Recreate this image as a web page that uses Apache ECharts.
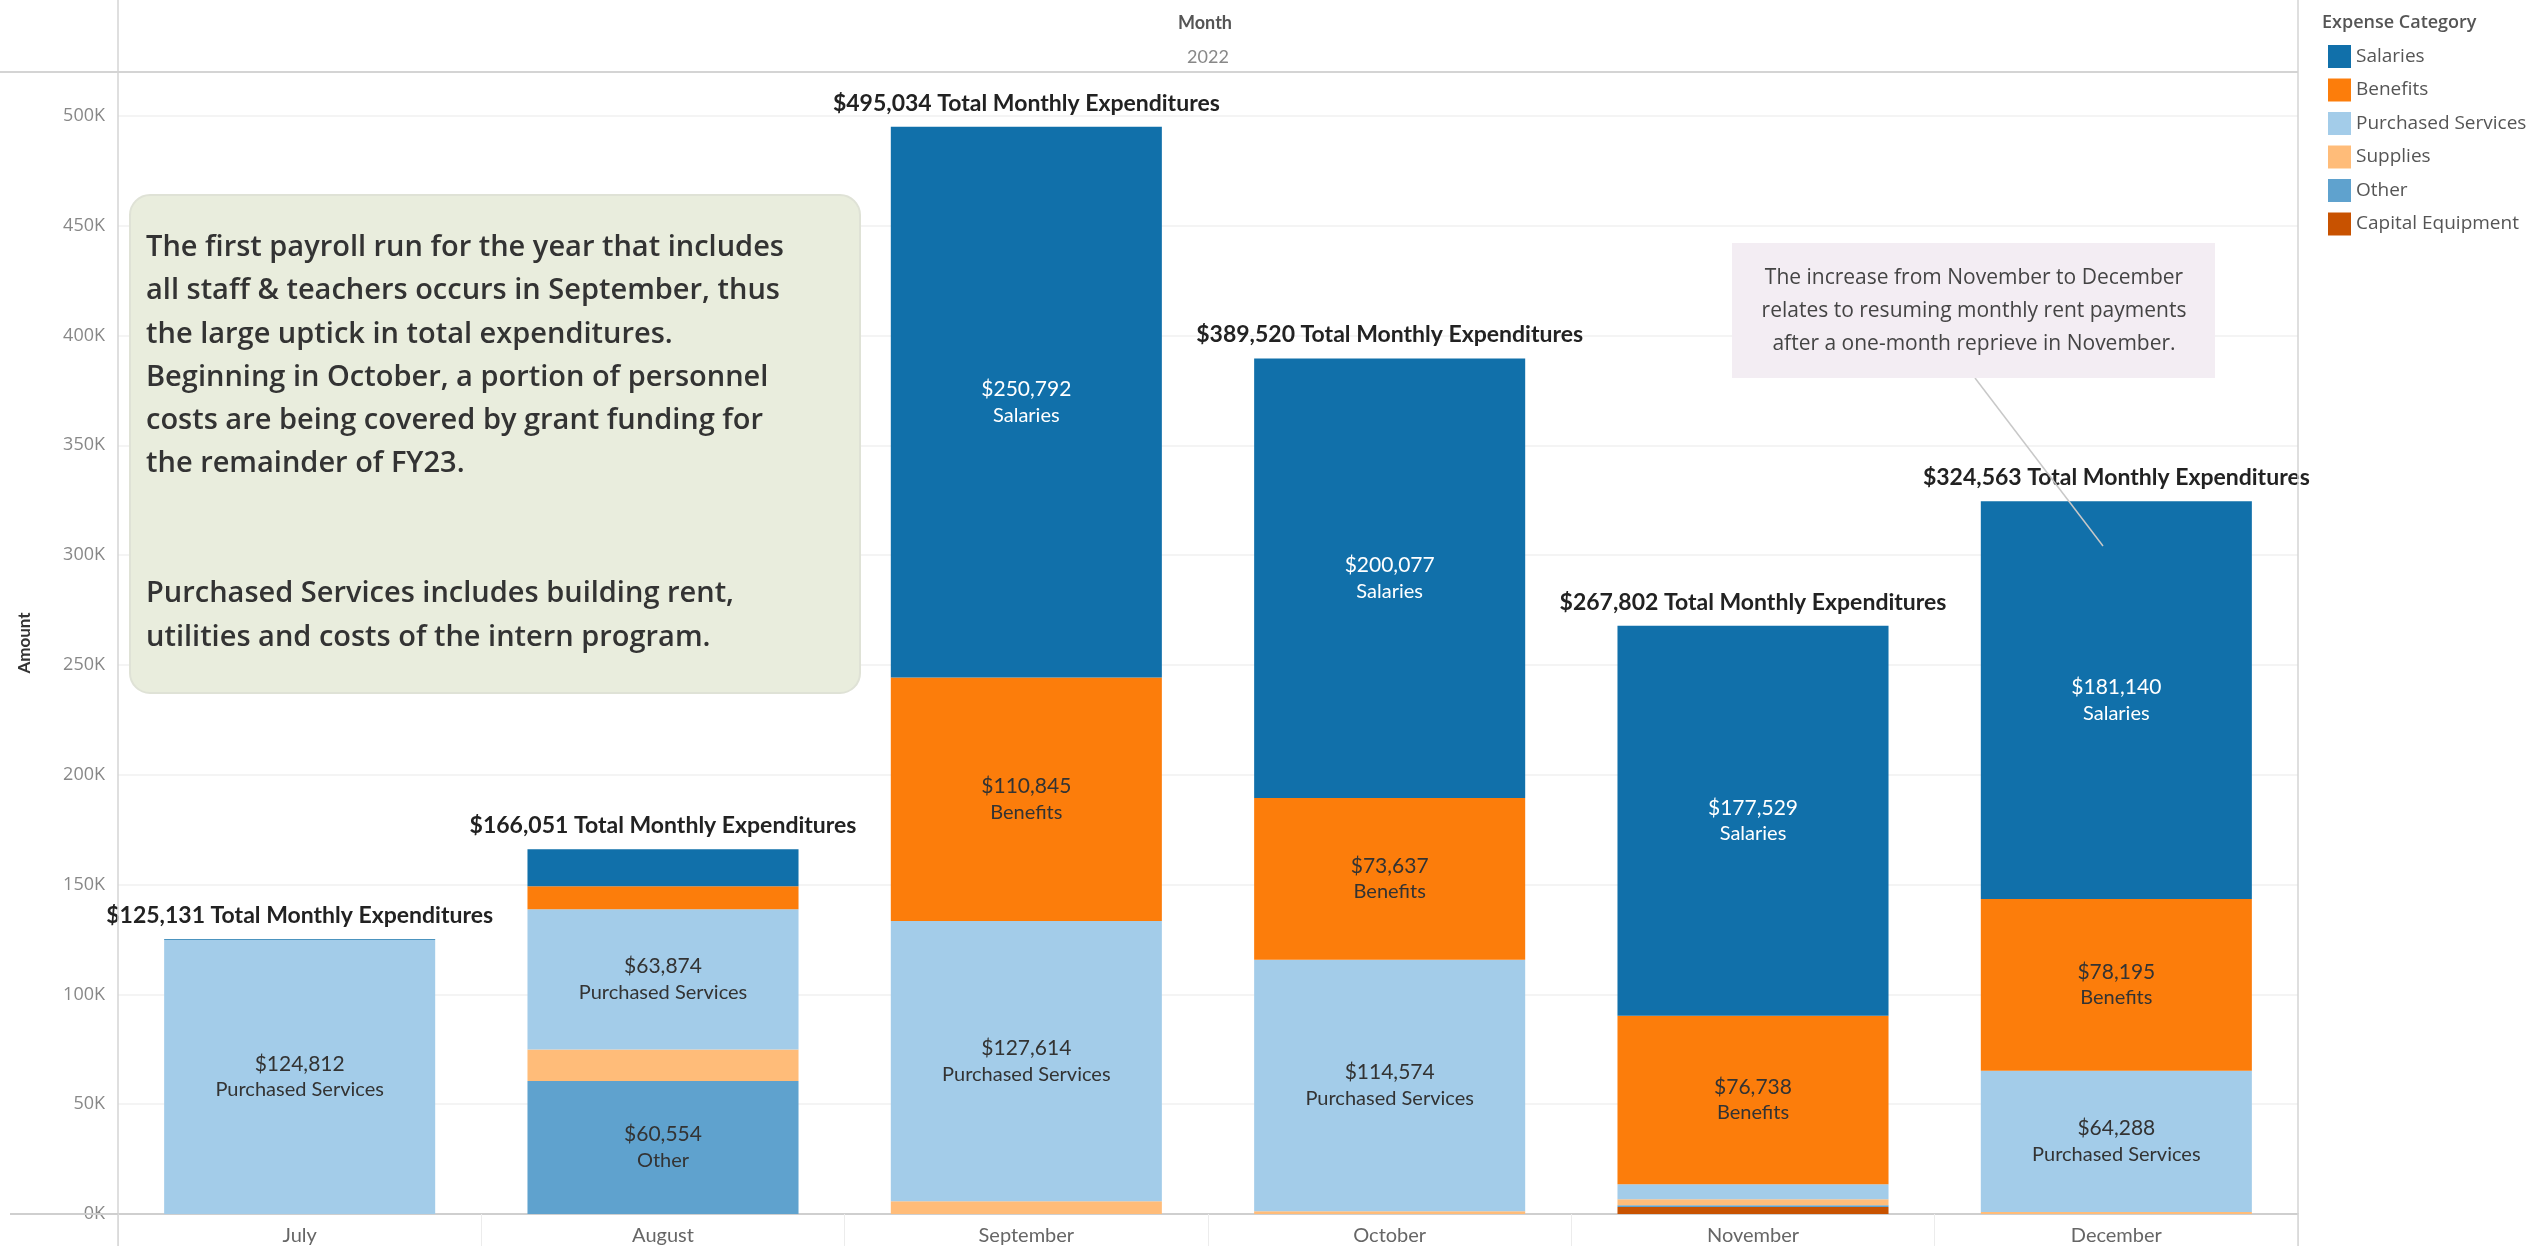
<!DOCTYPE html>
<html>
<head>
<meta charset="utf-8">
<title>Monthly Expenditures</title>
<script src="https://cdn.jsdelivr.net/npm/echarts@6/dist/echarts.min.js"></script>
<style>
  html, body { margin: 0; padding: 0; background: #fff; }
  #chart { width: 2544px; height: 1246px; }
</style>
</head>
<body>
<div id="chart"></div>
<script>
// data
const months = ['July', 'August', 'September', 'October', 'November', 'December'];
const salaries = [319, 16823, 250792, 200077, 177529, 181140];
const benefits = [0, 10500, 110845, 73637, 76738, 78195];
const purchased = [124812, 63874, 127614, 114574, 6800, 64288];
const supplies = [0, 14300, 5783, 1232, 2700, 940];
const other = [0, 60554, 0, 0, 800, 0];
const capital = [0, 0, 0, 0, 3235, 0];
const totals = [125131, 166051, 495034, 389520, 267802, 324563];
const yTicks = [0, 50000, 100000, 150000, 200000, 250000, 300000, 350000, 400000, 450000, 500000];

const FONT = 'Lato, "Noto Sans", sans-serif';
const WIDE = '"Open Sans", "Noto Sans", sans-serif';
const colors = {
  'Salaries': '#1170aa',
  'Benefits': '#fc7d0b',
  'Purchased Services': '#a3cce9',
  'Supplies': '#ffbc79',
  'Other': '#5fa2ce',
  'Capital Equipment': '#c85200'
};

const money = v => '$' + v.toLocaleString('en-US');

// label inside big segments only
const segLabel = (name, color) => ({
  show: true,
  position: 'inside',
  fontFamily: FONT,
  formatter: p => p.value >= 50000 ? '{v|' + money(p.value) + '}\n{n|' + name + '}' : '',
  rich: {
    v: { fontSize: 21, color: color, fontFamily: FONT, lineHeight: 26 },
    n: { fontSize: 20, color: color, fontFamily: FONT, lineHeight: 26 }
  }
});

const makeSeries = (name, data, labelColor) => ({
  name: name,
  type: 'bar',
  stack: 'total',
  barCategoryGap: '25.4%',
  data: data,
  itemStyle: { color: colors[name] },
  label: segLabel(name, labelColor),
  emphasis: { disabled: true }
});

const chart = echarts.init(document.getElementById('chart'));

const seriesList = [
  makeSeries('Capital Equipment', capital, '#333333'),
  makeSeries('Other', other, '#333333'),
  makeSeries('Supplies', supplies, '#333333'),
  makeSeries('Purchased Services', purchased, '#333333'),
  makeSeries('Benefits', benefits, '#333333'),
  makeSeries('Salaries', salaries, '#ffffff'),
  // empty segment on top of the stack, carries the total label
  {
    name: 'Totals',
    type: 'bar',
    stack: 'total',
    data: months.map(() => 0),
    itemStyle: { color: 'transparent' },
    label: {
      show: true,
      position: 'top',
      distance: 12,
      fontFamily: FONT,
      fontSize: 23,
      fontWeight: 'bold',
      color: '#222',
      formatter: p => money(totals[p.dataIndex]) + ' Total Monthly Expenditures'
    },
    emphasis: { disabled: true }
  }
];

const option = {
  backgroundColor: '#ffffff',
  animation: false,
  textStyle: { fontFamily: FONT },
  grid: { left: 118, right: 246, top: 72, bottom: 32, containLabel: false },
  legend: {
    orient: 'vertical',
    left: 2323,
    top: 40,
    itemWidth: 23,
    itemHeight: 23,
    itemGap: 10.5,
    icon: 'rect',
    selectedMode: false,
    data: ['Salaries', 'Benefits', 'Purchased Services', 'Supplies', 'Other', 'Capital Equipment'],
    textStyle: { fontFamily: WIDE, fontSize: 19, color: '#555' }
  },
  xAxis: {
    type: 'category',
    data: months,
    axisLine: { show: true, lineStyle: { color: '#cfcfcf', width: 2 } },
    axisTick: { show: true, length: 32, lineStyle: { color: '#ececec' } },
    axisLabel: { fontFamily: FONT, fontSize: 20, color: '#666', margin: 12 }
  },
  yAxis: {
    type: 'value',
    min: 0,
    max: 520000,
    interval: 50000,
    name: 'Amount',
    nameLocation: 'middle',
    nameGap: 85,
    nameRotate: 90,
    nameTextStyle: { fontFamily: FONT, fontSize: 17, fontWeight: 'bold', color: '#333' },
    axisLine: { show: false },
    axisTick: { show: false },
    axisLabel: {
      fontFamily: WIDE,
      fontSize: 18,
      color: '#888',
      margin: 13,
      showMaxLabel: false,
      formatter: v => yTicks.indexOf(v) >= 0 ? (v / 1000) + 'K' : ''
    },
    splitLine: { show: true, lineStyle: { color: '#f0f0f0', width: 1.5 } }
  },
  series: seriesList,
  graphic: [
    // pane dividers
    { type: 'line', silent: true, z: 100, shape: { x1: 118, y1: 0, x2: 118, y2: 1246 }, style: { stroke: '#d4d4d4', lineWidth: 1.5 } },
    { type: 'line', silent: true, z: 100, shape: { x1: 0, y1: 72, x2: 2298, y2: 72 }, style: { stroke: '#d4d4d4', lineWidth: 2 } },
    { type: 'line', silent: true, z: 100, shape: { x1: 2298, y1: 0, x2: 2298, y2: 1246 }, style: { stroke: '#d4d4d4', lineWidth: 1.5 } },
    { type: 'line', silent: true, z: 100, shape: { x1: 10, y1: 1214, x2: 118, y2: 1214 }, style: { stroke: '#cfcfcf', lineWidth: 2 } },
    // header
    { type: 'text', silent: true, z: 100, style: { text: 'Month', x: 1205, y: 23, textAlign: 'center', textVerticalAlign: 'middle', font: 'bold 18px ' + FONT, fill: '#555' } },
    { type: 'text', silent: true, z: 100, style: { text: '2022', x: 1208, y: 57, textAlign: 'center', textVerticalAlign: 'middle', font: '18px ' + FONT, fill: '#888' } },
    // legend title
    { type: 'text', silent: true, z: 100, style: { text: 'Expense Category', x: 2322, y: 23, textAlign: 'left', textVerticalAlign: 'middle', font: '600 18px ' + WIDE, fill: '#555' } },
    // left note
    { type: 'rect', silent: true, z: 100, shape: { x: 130, y: 195, width: 730, height: 498, r: 20 }, style: { fill: '#e9eddd', stroke: '#dfe2d6', lineWidth: 2 } },
    {
      type: 'text', silent: true, z: 101,
      style: {
        text: 'The first payroll run for the year that includes\nall staff & teachers occurs in September, thus\nthe large uptick in total expenditures.\nBeginning in October, a portion of personnel\ncosts are being covered by grant funding for\nthe remainder of FY23.\n\n\nPurchased Services includes building rent,\nutilities and costs of the intern program.',
        x: 146, y: 226, textAlign: 'left', textVerticalAlign: 'top',
        fontFamily: WIDE, fontSize: 29, fontWeight: 600, lineHeight: 43.3, fill: '#333'
      }
    },
    // december note
    { type: 'line', silent: true, z: 100, shape: { x1: 1975, y1: 378, x2: 2103, y2: 546 }, style: { stroke: '#c8c8c8', lineWidth: 1.5 } },
    { type: 'rect', silent: true, z: 100, shape: { x: 1732, y: 243, width: 483, height: 135 }, style: { fill: '#f3edf3' } },
    {
      type: 'text', silent: true, z: 101,
      style: {
        text: 'The increase from November to December\nrelates to resuming monthly rent payments\nafter a one-month reprieve in November.',
        x: 1974, y: 261, textAlign: 'center', textVerticalAlign: 'top',
        fontFamily: WIDE, fontSize: 21, lineHeight: 33.3, fill: '#444'
      }
    }
  ]
};

chart.setOption(option);
window.addEventListener('resize', () => chart.resize());
</script>
</body>
</html>
